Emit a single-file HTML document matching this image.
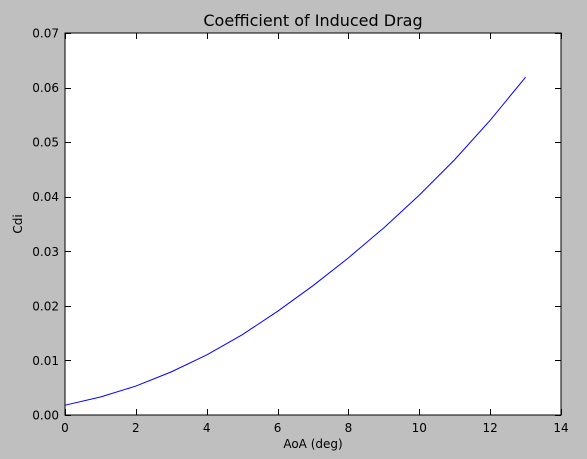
<!DOCTYPE html>
<html><head><meta charset="utf-8"><style>
body{margin:0;background:#bfbfbf;}
svg{display:block;font-family:"DejaVu Sans","Liberation Sans",sans-serif;}
</style></head><body>
<svg id="chart" width="587" height="459">
<rect x="65" y="33" width="496" height="382" fill="#fff"/>
<text x="313" y="26" font-size="16" text-anchor="middle">Coefficient of Induced Drag</text>
<text x="313" y="448" font-size="12" text-anchor="middle">AoA (deg)</text>
<text x="22" y="224" font-size="12" text-anchor="middle" transform="rotate(-90 22 224)">Cdi</text>
<g id="ticks"></g>
<polyline id="line" fill="none" stroke="#0000ff" stroke-width="1"/>
<rect x="65" y="33" width="496" height="382" fill="none" stroke="#000" stroke-width="1"/>
</svg>
<script>
const aoa=[0,1,2,3,4,5,6,7,8,9,10,11,12,13];
const cdi=[0.0018,0.0033,0.0053,0.0079,0.011,0.0147,0.019,0.0237,0.0288,0.0343,0.0403,0.0468,0.054,0.0619];
const xTicks=[0,2,4,6,8,10,12,14];
const yTicks=[0,0.01,0.02,0.03,0.04,0.05,0.06,0.07];
const yLabels=["0.00","0.01","0.02","0.03","0.04","0.05","0.06","0.07"];
const X0=65,X1=561,Y0=415,Y1=33;
const sx=v=>X0+(v-0)/(14-0)*(X1-X0);
const sy=v=>Y0-(v-0)/(0.07-0)*(Y0-Y1);
const NS="http://www.w3.org/2000/svg";
const g=document.getElementById('ticks');
function ln(x1,y1,x2,y2){const l=document.createElementNS(NS,'line');l.setAttribute('x1',x1);l.setAttribute('y1',y1);l.setAttribute('x2',x2);l.setAttribute('y2',y2);l.setAttribute('stroke','#000');


g.appendChild(l);}
function tx(x,y,s,a){const t=document.createElementNS(NS,'text');t.setAttribute('x',x);t.setAttribute('y',y);t.setAttribute('font-size','12');t.setAttribute('text-anchor',a);t.textContent=s;


g.appendChild(t);}
xTicks.forEach(v=>{const x=Math.round(sx(v))+0.5;ln(x,Y0,x,Y0-6);ln(x,Y1,x,Y1+6);tx(sx(v),432,String(v),'middle');});
yTicks.forEach((v,i)=>{const y=Math.round(sy(v))+0.5;ln(X0,y,X0+6,y);ln(X1,y,X1-6,y);tx(59,sy(v)+4.5,yLabels[i],'end');});
document.getElementById('line').setAttribute('points',aoa.map((a,i)=>sx(a)+','+sy(cdi[i])).join(' '));
</script>
</body></html>
